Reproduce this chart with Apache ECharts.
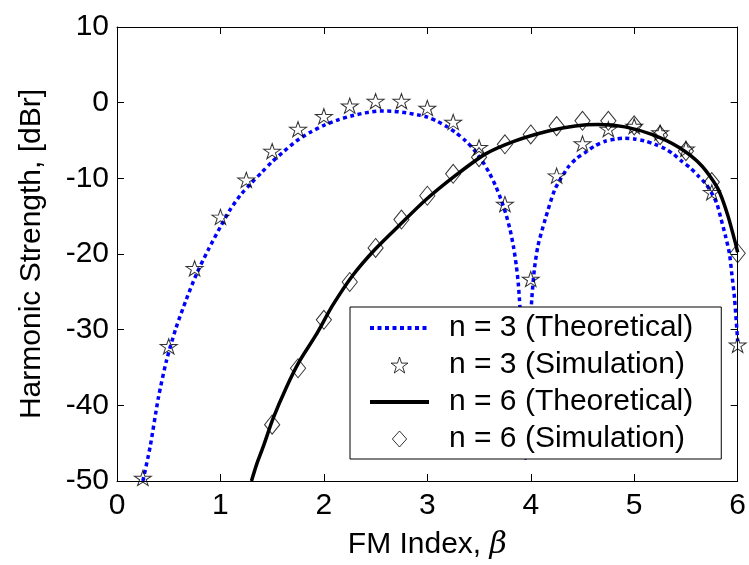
<!DOCTYPE html>
<html><head><meta charset="utf-8">
<script src="https://cdn.jsdelivr.net/npm/echarts@6/dist/echarts.min.js"></script>
<style>html,body{margin:0;padding:0;background:#fff}#c{width:749px;height:565px}</style>
</head><body><div id="c"></div>
<script>
// n = 3 theoretical curve
const beta3Theory = [0.25,0.32,0.4,0.48,0.57,0.67,0.77,0.88,1.0,1.1,1.2,1.3,1.4,1.5,1.6,1.73,1.87,2.0,2.13,2.28,2.4,2.55,2.68,2.8,2.92,3.0,3.1,3.18,3.27,3.37,3.45,3.53,3.6,3.66,3.71,3.755,3.8,3.835,3.86,3.88,3.91,3.93,3.948,3.965,3.985,4.01,4.035,4.07,4.14,4.235,4.36,4.44,4.525,4.62,4.72,4.82,4.91,5.0,5.1,5.2,5.3,5.38,5.455,5.54,5.617,5.69,5.745,5.8,5.84,5.88,5.92,5.945,5.97,6.0];
const dB3Theory = [-50,-45.5,-39,-34,-29.8,-26,-22.6,-19.5,-16.4,-14.0,-12.1,-10.6,-9.2,-7.8,-6.6,-5.1,-3.9,-3.0,-2.3,-1.7,-1.35,-1.1,-1.15,-1.35,-1.65,-1.9,-2.5,-3.1,-3.9,-5.05,-6.2,-7.7,-9.3,-11.0,-12.7,-14.5,-16.8,-19.2,-21.5,-24,-30.3,-37,-47,-40,-32,-25.9,-22,-18.9,-15.4,-11.4,-8.55,-7.4,-6.6,-5.7,-5.1,-4.8,-4.7,-4.8,-5.05,-5.5,-6.1,-6.8,-7.7,-8.6,-9.65,-10.7,-11.85,-13.4,-15.4,-17.5,-19.9,-22.8,-25.9,-31.5];
// n = 3 simulation
const beta3Sim = [0.25,0.5,0.75,1.0,1.25,1.5,1.75,2.0,2.25,2.5,2.75,3.0,3.25,3.5,3.75,4.0,4.25,4.5,4.75,5.0,5.25,5.5,5.75,6.0];
const dB3Sim = [-49.6,-32.2,-21.9,-15.1,-10.2,-6.4,-3.5,-1.8,-0.4,0.2,0.2,-0.7,-2.55,-5.9,-13.4,-23.3,-9.65,-5.4,-3.5,-3.1,-3.95,-6.1,-11.85,-32.0];
// n = 6 theoretical curve
const beta6Theory = [1.30,1.35,1.41,1.51,1.635,1.763,1.924,2.084,2.28,2.5,2.73,2.98,3.27,3.56,3.85,4.17,4.43,4.65,4.91,5.17,5.43,5.65,5.81,5.905,5.985,6.0];
const dB6Theory = [-50,-47.8,-45.6,-41.7,-37.7,-34.2,-30.7,-26.8,-22.8,-19.3,-16.2,-12.9,-9.65,-6.8,-5.05,-3.74,-3.08,-2.9,-3.2,-4.2,-5.9,-8.3,-11.4,-14.9,-18.9,-19.8];
// n = 6 simulation
const beta6Sim = [1.5,1.75,2.0,2.25,2.5,2.75,3.0,3.25,3.5,3.75,4.0,4.25,4.5,4.75,5.0,5.25,5.5,5.75,6.0];
const dB6Sim = [-42.55,-35.1,-28.7,-23.7,-19.2,-15.45,-12.3,-9.4,-7.2,-5.5,-4.2,-3.1,-2.4,-2.4,-3.0,-4.3,-6.4,-10.5,-19.9];
const legendNames = ['n = 3 (Theoretical)','n = 3 (Simulation)','n = 6 (Theoretical)','n = 6 (Simulation)'];

const zip = (a,b) => a.map((v,i)=>[v,b[i]]);
const STAR = 'path://M100,0 L122.45,69.1 L195.1,69.1 L136.33,111.8 L158.78,180.9 L100,138.2 L41.22,180.9 L63.67,111.8 L4.9,69.1 L77.55,69.1 Z';
const DIAMOND = 'path://M50,0 L100,56 L50,112 L0,56 Z';
const FONT = 'Liberation Sans';
const FS = 30;
const BLUE = '#0000ff';
const DOT = [4,3.5];

const chart = echarts.init(document.getElementById('c'));
const baseAxis = {
  axisLine:{show:true,onZero:false,lineStyle:{color:'#000',width:1}},
  axisTick:{show:true,inside:true,length:7,lineStyle:{color:'#000'}},
  splitLine:{show:false}
};
const hiddenSym = {color:'rgba(0,0,0,0)',borderWidth:0,opacity:0};
const hollowSym = {color:'rgba(0,0,0,0)',borderColor:'#000',borderWidth:1};
chart.setOption({
  animation:false,
  backgroundColor:'#fff',
  textStyle:{fontFamily:FONT},
  grid:{left:117,top:27,width:623,height:457,containLabel:false},
  xAxis:[
    Object.assign({type:'value',min:0,max:6,interval:1,position:'bottom',
      name:'FM Index, {i|β}',nameLocation:'middle',nameGap:49,
      nameTextStyle:{fontSize:FS,color:'#000',fontFamily:FONT,rich:{i:{fontSize:FS,fontStyle:'italic',fontFamily:'DejaVu Serif',color:'#000'}}},
      axisLabel:{fontSize:FS,color:'#000',margin:10,fontFamily:FONT}},baseAxis),
    Object.assign({type:'value',min:0,max:6,interval:1,position:'top',axisLabel:{show:false}},baseAxis)
  ],
  yAxis:[
    Object.assign({type:'value',min:-50,max:10,interval:10,position:'left',
      name:'Harmonic Strength, [dBr]',nameLocation:'middle',nameGap:70,
      nameTextStyle:{fontSize:FS,color:'#000',fontFamily:FONT},
      axisLabel:{fontSize:FS,color:'#000',margin:8,fontFamily:FONT}},baseAxis),
    Object.assign({type:'value',min:-50,max:10,interval:10,position:'right',axisLabel:{show:false}},baseAxis)
  ],
  legend:{
    orient:'vertical',left:350,top:307,
    backgroundColor:'#fff',borderColor:'#000',borderWidth:1,borderRadius:0,
    padding:[6,28,5,18],itemGap:7,itemWidth:59,itemHeight:16,
    textStyle:{fontSize:FS,color:'#000',fontFamily:FONT,padding:[0,0,0,15]},
    data:[
      {name:legendNames[0],itemStyle:hiddenSym,lineStyle:{color:BLUE,width:4,type:DOT}},
      {name:legendNames[1],itemStyle:hollowSym},
      {name:legendNames[2],itemStyle:hiddenSym,lineStyle:{color:'#000',width:4,type:'solid'}},
      {name:legendNames[3],itemStyle:hollowSym}
    ]
  },
  series:[
    {name:legendNames[0],type:'line',data:zip(beta3Theory,dB3Theory),showSymbol:false,symbol:'none',smooth:0.25,
      lineStyle:{color:BLUE,width:3.5,type:DOT},itemStyle:{color:BLUE},z:2},
    {name:legendNames[1],type:'scatter',data:zip(beta3Sim,dB3Sim),symbol:STAR,symbolSize:[17,16],symbolKeepAspect:true,
      itemStyle:hollowSym,z:3},
    {name:legendNames[2],type:'line',data:zip(beta6Theory,dB6Theory),showSymbol:false,symbol:'none',smooth:0.25,
      lineStyle:{color:'#000',width:3.5},itemStyle:{color:'#000'},z:4},
    {name:legendNames[3],type:'scatter',data:zip(beta6Sim,dB6Sim),symbol:DIAMOND,symbolSize:[17,19],symbolKeepAspect:true,
      itemStyle:hollowSym,z:5}
  ]
});
</script></body></html>
